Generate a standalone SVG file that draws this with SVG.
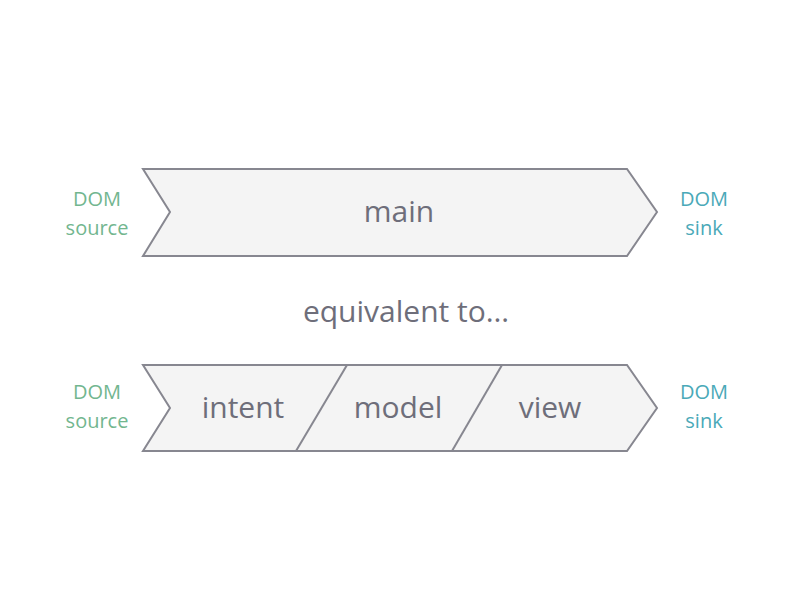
<svg xmlns="http://www.w3.org/2000/svg" width="800" height="600" viewBox="0 0 800 600">
<style>
.shape{fill:#f4f4f4;stroke:#878790;stroke-width:2;stroke-linejoin:miter}
.div{fill:none;stroke:#878790;stroke-width:2}
.lbl{font-family:"Open Sans",Lato,sans-serif;font-size:30px;fill:#6e6e7a;text-anchor:middle}
.src{font-family:"Open Sans",Lato,sans-serif;font-size:20px;fill:#72b68f;text-anchor:middle}
.snk{font-family:"Open Sans",Lato,sans-serif;font-size:20px;fill:#4aa9b8;text-anchor:middle}
</style>
<rect width="800" height="600" fill="#ffffff"/>
<g id="main">
<polygon class="shape" points="143,169 627,169 657,212 627,256 143,256 170,212"/>
<text class="lbl" x="399" y="222">main</text>
</g>
<g id="main-source">
<text class="src" x="97" y="206">DOM</text>
<text class="src" x="97" y="235">source</text>
</g>
<g id="main-sink">
<text class="snk" x="704" y="206">DOM</text>
<text class="snk" x="704" y="235">sink</text>
</g>
<text id="equiv" class="lbl" x="406" y="322">equivalent to…</text>
<g id="mvi">
<polygon class="shape" points="143,365 627,365 657,408 627,451 143,451 170,408"/>
</g>
<g id="connectors">
<line class="div" x1="347" y1="365" x2="296" y2="451"/>
<line class="div" x1="502" y1="365" x2="452" y2="451"/>
</g>
<g id="intent"><text class="lbl" x="243" y="418">intent</text></g>
<g id="model"><text class="lbl" x="398" y="418">model</text></g>
<g id="view"><text class="lbl" x="550" y="418">view</text></g>
<g id="mvi-source">
<text class="src" x="97" y="399">DOM</text>
<text class="src" x="97" y="428">source</text>
</g>
<g id="mvi-sink">
<text class="snk" x="704" y="399">DOM</text>
<text class="snk" x="704" y="428">sink</text>
</g>
</svg>
